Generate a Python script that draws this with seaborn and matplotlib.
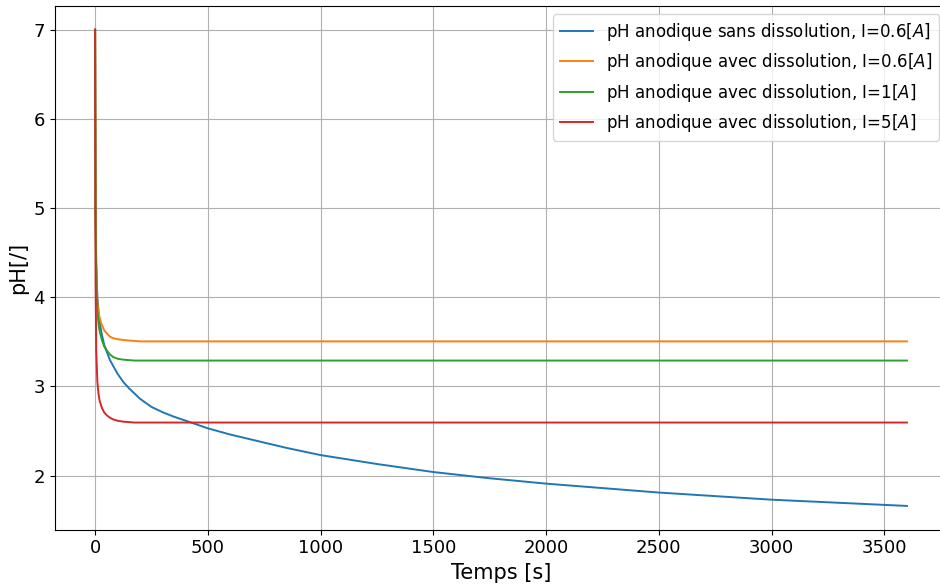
import matplotlib
matplotlib.use("Agg")
import matplotlib.pyplot as plt
import pandas as pd
import seaborn as sns

# Time samples [s]
temps = [0, 2, 5, 10, 15, 20, 30, 40, 50, 65, 80, 100, 125, 150, 175, 200,
         250, 300, 350, 420, 500, 600, 700, 850, 1000, 1250, 1500, 1750,
         2000, 2500, 3000, 3600]

# Anodic pH for each case
ph_sans_06 = [7.0, 5.0, 4.4, 4.0, 3.85, 3.72, 3.58, 3.47, 3.40, 3.30, 3.23, 3.14,
              3.05, 2.98, 2.92, 2.86, 2.77, 2.71, 2.66, 2.60, 2.53, 2.46, 2.40,
              2.31, 2.23, 2.13, 2.04, 1.97, 1.91, 1.81, 1.73, 1.66]
ph_avec_06 = [7.0, 4.9, 4.3, 3.95, 3.83, 3.77, 3.69, 3.63, 3.60, 3.56, 3.54, 3.53,
              3.52, 3.515, 3.51, 3.505, 3.505, 3.505, 3.505, 3.505, 3.505, 3.505,
              3.505, 3.505, 3.505, 3.505, 3.505, 3.505, 3.505, 3.505, 3.505, 3.505]
ph_avec_1 = [7.0, 4.8, 4.2, 3.85, 3.70, 3.62, 3.52, 3.45, 3.41, 3.36, 3.33, 3.31,
             3.30, 3.295, 3.29, 3.29, 3.29, 3.29, 3.29, 3.29, 3.29, 3.29, 3.29,
             3.29, 3.29, 3.29, 3.29, 3.29, 3.29, 3.29, 3.29, 3.29]
ph_avec_5 = [7.0, 4.2, 3.4, 3.05, 2.92, 2.84, 2.76, 2.71, 2.68, 2.65, 2.63, 2.615,
             2.605, 2.60, 2.595, 2.595, 2.595, 2.595, 2.595, 2.595, 2.595, 2.595,
             2.595, 2.595, 2.595, 2.595, 2.595, 2.595, 2.595, 2.595, 2.595, 2.595]

labels = [
    "pH anodique sans dissolution, I=0.6[$A$]",
    "pH anodique avec dissolution, I=0.6[$A$]",
    "pH anodique avec dissolution, I=1[$A$]",
    "pH anodique avec dissolution, I=5[$A$]",
]
series = [ph_sans_06, ph_avec_06, ph_avec_1, ph_avec_5]

frames = [pd.DataFrame({"t": temps, "pH": vals, "cas": lab})
          for lab, vals in zip(labels, series)]
df = pd.concat(frames, ignore_index=True)

fig = plt.figure(figsize=(9.4, 5.86), dpi=100)
# axes frame runs slightly past the right edge of the canvas
ax = fig.add_axes([0.058, 0.096, 0.950, 0.894])

sns.lineplot(data=df, x="t", y="pH", hue="cas", hue_order=labels,
             palette=["#1f77b4", "#ff7f0e", "#2ca02c", "#d62728"],
             linewidth=1.4, ax=ax)

ax.grid(True, color="#b0b0b0", linewidth=0.8)
ax.set_xlabel("Temps [s]", fontsize=15)
ax.set_ylabel("pH[/]", fontsize=15)
ax.tick_params(labelsize=13)
ax.set_xticks([0, 500, 1000, 1500, 2000, 2500, 3000, 3500])
ax.set_yticks([2, 3, 4, 5, 6, 7])
ax.legend(loc="upper right", fontsize=12, title=None)

fig.savefig("out.png", dpi=100)
